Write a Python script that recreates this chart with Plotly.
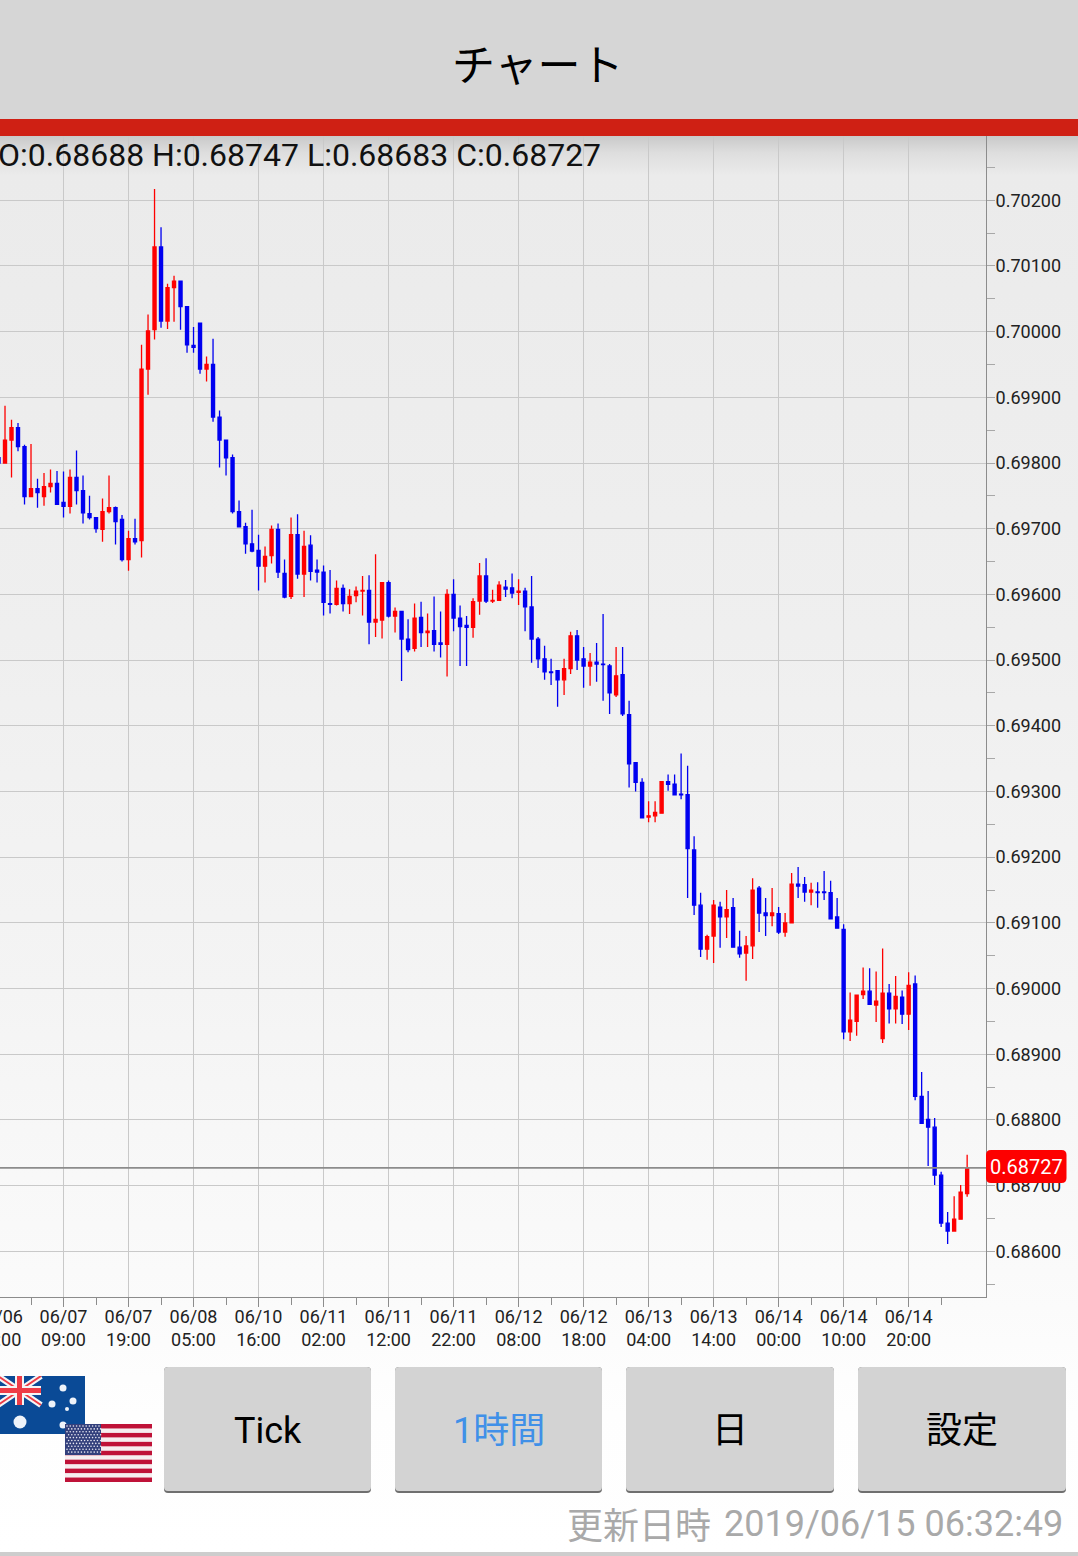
import base64
import plotly.graph_objects as go

W, H = 1078, 1556

# one hourly candle per row position, AUD/USD, oldest first
opens = [.69808,.69800,.69835,.69854,.69825,.69749,.69761,.69749,.69764,.69769,
 .69740,.69734,.69778,.69758,.69723,.69717,.69699,.69726,.69732,.69714,
 .69653,.69685,.69682,.69943,.70003,.70129,.70016,.70067,.70077,.70038,
 .69979,.70013,.69943,.69950,.69870,.69835,.69808,.69726,.69703,.69677,
 .69667,.69643,.69659,.69699,.69632,.69597,.69691,.69631,.69675,.69637,
 .69634,.69586,.69585,.69609,.69586,.69598,.69605,.69606,.69558,.69561,
 .69618,.69567,.69574,.69532,.69518,.69565,.69542,.69545,.69526,.69524,
 .69600,.69564,.69553,.69550,.69590,.69628,.69590,.69591,.69611,.69610,
 .69603,.69605,.69581,.69532,.69502,.69482,.69484,.69470,.69487,.69537,
 .69502,.69491,.69497,.69494,.69491,.69447,.69478,.69417,.69344,.69314,
 .69261,.69263,.69267,.69315,.69311,.69296,.69295,.69211,.69127,.69060,
 .69080,.69124,.69109,.69123,.69063,.69054,.69065,.69153,.69115,.69111,
 .69114,.69086,.69100,.69159,.69158,.69147,.69147,.69147,.69146,.69109,
 .69090,.68934,.68950,.68991,.68996,.68975,.68924,.68993,.68969,.68987,
 .68961,.69007,.68836,.68801,.68789,.68716,.68643,.68631,.68649,.68688]
highs = [.69808,.69887,.69866,.69861,.69828,.69829,.69776,.69785,.69790,.69788,
 .69787,.69790,.69819,.69781,.69750,.69718,.69746,.69781,.69734,.69721,
 .69697,.69715,.69980,.70026,.70217,.70159,.70073,.70085,.70077,.70038,
 .70007,.70013,.69962,.69989,.69880,.69835,.69813,.69743,.69709,.69729,
 .69691,.69673,.69705,.69708,.69653,.69717,.69722,.69697,.69690,.69653,
 .69644,.69637,.69621,.69615,.69608,.69612,.69628,.69629,.69661,.69618,
 .69621,.69580,.69574,.69562,.69586,.69589,.69571,.69597,.69574,.69608,
 .69623,.69583,.69567,.69594,.69648,.69655,.69607,.69620,.69622,.69632,
 .69623,.69610,.69628,.69535,.69522,.69502,.69484,.69502,.69543,.69546,
 .69520,.69511,.69526,.69570,.69494,.69520,.69520,.69438,.69345,.69320,
 .69285,.69285,.69315,.69326,.69326,.69358,.69339,.69232,.69146,.69082,
 .69135,.69132,.69150,.69138,.69088,.69080,.69168,.69156,.69138,.69153,
 .69124,.69115,.69176,.69185,.69170,.69161,.69162,.69179,.69164,.69138,
 .69098,.68994,.68991,.69032,.69031,.69026,.69061,.69007,.69019,.68997,
 .69025,.69020,.68873,.68844,.68803,.68721,.68660,.68684,.68701,.68747]
lows = [.69800,.69800,.69778,.69818,.69737,.69749,.69732,.69735,.69755,.69737,
 .69717,.69723,.69737,.69708,.69714,.69694,.69680,.69723,.69676,.69650,
 .69636,.69676,.69656,.69904,.69988,.70006,.70004,.70015,.70003,.69968,
 .69968,.69936,.69924,.69863,.69793,.69781,.69723,.69702,.69662,.69664,
 .69606,.69618,.69647,.69625,.69594,.69593,.69624,.69596,.69621,.69618,
 .69568,.69571,.69583,.69574,.69570,.69588,.69568,.69524,.69535,.69533,
 .69565,.69542,.69468,.69512,.69513,.69520,.69520,.69513,.69504,.69475,
 .69544,.69491,.69491,.69534,.69569,.69587,.69587,.69590,.69596,.69594,
 .69584,.69544,.69496,.69488,.69470,.69462,.69429,.69447,.69479,.69485,
 .69458,.69461,.69467,.69438,.69418,.69444,.69415,.69306,.69300,.69259,
 .69253,.69253,.69267,.69301,.69294,.69288,.69138,.69112,.69048,.69044,
 .69039,.69062,.69077,.69063,.69047,.69012,.69045,.69086,.69080,.69095,
 .69083,.69079,.69100,.69138,.69132,.69127,.69123,.69135,.69106,.69091,
 .68923,.68920,.68928,.68984,.68975,.68949,.68917,.68947,.68947,.68946,
 .68937,.68830,.68794,.68730,.68701,.68637,.68611,.68630,.68649,.68683]
closes = [.69800,.69835,.69854,.69825,.69749,.69761,.69755,.69764,.69769,.69737,
 .69734,.69778,.69758,.69724,.69717,.69700,.69726,.69732,.69711,.69653,
 .69685,.69680,.69943,.70001,.70129,.70016,.70067,.70077,.70038,.69980,
 .69976,.69943,.69950,.69870,.69835,.69808,.69726,.69703,.69677,.69666,
 .69643,.69658,.69699,.69634,.69596,.69691,.69631,.69673,.69635,.69634,
 .69588,.69585,.69609,.69586,.69597,.69605,.69606,.69558,.69562,.69618,
 .69567,.69574,.69532,.69516,.69564,.69542,.69544,.69524,.69524,.69600,
 .69564,.69551,.69550,.69589,.69628,.69590,.69591,.69614,.69608,.69602,
 .69605,.69581,.69532,.69502,.69482,.69481,.69470,.69487,.69537,.69500,
 .69491,.69497,.69494,.69493,.69450,.69476,.69418,.69342,.69314,.69260,
 .69263,.69268,.69315,.69311,.69295,.69295,.69213,.69127,.69060,.69079,
 .69127,.69109,.69120,.69063,.69053,.69065,.69150,.69115,.69111,.69115,
 .69086,.69100,.69159,.69156,.69147,.69150,.69146,.69146,.69106,.69092,
 .68934,.68952,.68990,.68996,.68976,.68981,.68993,.68969,.68988,.68961,
 .69005,.68836,.68795,.68789,.68716,.68643,.68631,.68649,.68690,.68727]
first_index = -10
positions = list(range(first_index, first_index + len(opens)))

tick_positions = [0, 10, 20, 30, 40, 50, 60, 70, 80, 90, 100, 110, 120, 130]
tick_dates = ["06/07","06/07","06/08","06/10","06/11","06/11","06/11","06/12","06/12","06/13","06/13","06/14","06/14","06/14"]
tick_times = ["09:00","19:00","05:00","16:00","02:00","12:00","22:00","08:00","18:00","04:00","14:00","00:00","10:00","20:00"]
clipped_tick = ("06/06", "23:00")

last_price = 0.68727
ohlc_text = "O:0.68688 H:0.68747 L:0.68683 C:0.68727"
title_text = "チャート"
updated_label = "更新日時"
updated_value = "2019/06/15 06:32:49"
buttons = ["Tick", "1時間", "日", "設定"]
button_colors = ["#000000", "#4090e8", "#000000", "#000000"]
button_left = [164, 395, 626, 858]
button_right = [371, 602, 834, 1066]

UP, DOWN = "#fe0000", "#0000f0"
JP = "Noto Sans CJK JP"


def px(v):
    return v / W


def py(v):
    return 1 - v / H


def rounded(x0, y0, x1, y1, r):
    X0, X1, Y0, Y1 = px(x0), px(x1), py(y0), py(y1)
    rx, ry = r / W, r / H
    return (f"M{X0+rx},{Y0} L{X1-rx},{Y0} Q{X1},{Y0} {X1},{Y0-ry} L{X1},{Y1+ry} Q{X1},{Y1} {X1-rx},{Y1} "
            f"L{X0+rx},{Y1} Q{X0},{Y1} {X0},{Y1+ry} L{X0},{Y0-ry} Q{X0},{Y0} {X0+rx},{Y0} Z")


def svg_uri(svg):
    return "data:image/svg+xml;base64," + base64.b64encode(svg.encode()).decode()


background_svg = f'''<svg xmlns="http://www.w3.org/2000/svg" width="{W}" height="{H}" preserveAspectRatio="none">
<defs><linearGradient id="g" x1="0" y1="0" x2="0" y2="1">
<stop offset="0" stop-color="#c9c9c9"/><stop offset="0.012" stop-color="#dedede"/><stop offset="0.028" stop-color="#ebebeb"/>
<stop offset="0.35" stop-color="#efefef"/><stop offset="0.6" stop-color="#f4f4f4"/><stop offset="0.8" stop-color="#fafafa"/><stop offset="0.9" stop-color="#fefefe"/><stop offset="1" stop-color="#ffffff"/>
</linearGradient></defs><rect width="{W}" height="{H}" fill="url(#g)"/></svg>'''

au_stars = [(65, 12, 3.5), (54, 28, 3.5), (75, 25, 3.5), (69, 33, 2), (65, 49, 3.5), (22, 46, 6.5)]
au_svg = f'''<svg xmlns="http://www.w3.org/2000/svg" width="87" height="58" viewBox="0 0 87 58">
<rect width="87" height="58" fill="#0a4a96"/>
<path d="M0,0 L43,29 M43,0 L0,29" stroke="#f5f5f5" stroke-width="6"/>
<path d="M0,0 L43,29 M43,0 L0,29" stroke="#ee3b46" stroke-width="2"/>
<path d="M21.5,0 V29 M0,14.5 H43" stroke="#f5f5f5" stroke-width="9"/>
<path d="M21.5,0 V29 M0,14.5 H43" stroke="#ee3b46" stroke-width="5"/>
{"".join(f'<circle cx="{x}" cy="{y}" r="{r}" fill="#eef3fa"/>' for x, y, r in au_stars)}
</svg>'''

us_stripes = "".join(f'<rect y="{k*58/13:.2f}" width="87" height="{58/13:.2f}" fill="#bf1238"/>' for k in range(0, 13, 2))
us_dots = "".join(f'<circle cx="{2+3.2*c + (1.6 if r % 2 else 0):.1f}" cy="{2+2.9*r:.1f}" r="0.8" fill="#e8e8f2"/>'
                  for r in range(10) for c in range(11))
us_svg = f'''<svg xmlns="http://www.w3.org/2000/svg" width="87" height="58" viewBox="0 0 87 58">
<rect width="87" height="58" fill="#f6eef0"/>{us_stripes}
<rect width="36" height="31" fill="#33407c"/>{us_dots}</svg>'''

fig = go.Figure(go.Candlestick(
    x=positions, open=opens, high=highs, low=lows, close=closes,
    increasing=dict(line=dict(color=UP, width=1.3), fillcolor=UP),
    decreasing=dict(line=dict(color=DOWN, width=1.3), fillcolor=DOWN),
    whiskerwidth=0, hoverinfo="skip", showlegend=False,
))

shapes = [
    dict(type="rect", xref="paper", yref="paper", x0=0, x1=1, y0=py(0), y1=py(119), fillcolor="#d6d6d6", line_width=0, layer="above"),
    dict(type="rect", xref="paper", yref="paper", x0=0, x1=1, y0=py(119), y1=py(136), fillcolor="#cf2014", line_width=0, layer="above"),
    dict(type="rect", xref="paper", yref="paper", x0=0, x1=1, y0=py(1552), y1=0, fillcolor="#cdcdcd", line_width=0, layer="above"),
    dict(type="line", xref="paper", yref="y", x0=0, x1=px(986), y0=last_price, y1=last_price,
         line=dict(color="#8c8c8c", width=1.6), layer="above"),
    dict(type="path", xref="paper", yref="paper", path=rounded(986, 1150, 1066.5, 1183, 5), fillcolor="#fd0000", line_width=0, layer="above"),
]
for left, right in zip(button_left, button_right):
    shapes.append(dict(type="path", xref="paper", yref="paper", path=rounded(left, 1367, right, 1493, 4),
                       fillcolor="#6f6f6f", line_width=0, layer="above"))
    shapes.append(dict(type="path", xref="paper", yref="paper", path=rounded(left, 1367, right, 1491, 4),
                       fillcolor="#d3d3d3", line_width=0, layer="above"))

annotations = [
    dict(x=px(538), y=py(62), text=title_text, font=dict(family=JP, size=43, color="#000000")),
    dict(x=px(-2), y=py(155), xanchor="left", text=ohlc_text, font=dict(family="Roboto", size=32, color="#111111")),
    dict(x=px(1026.5), y=py(1167), text=f"{last_price:.5f}", font=dict(family="Roboto", size=20, color="#ffffff")),
    dict(x=px(711), y=py(1523), xanchor="right", text=updated_label, font=dict(family=JP, size=36, color="#a9a9a9")),
    dict(x=px(1063), y=py(1524), xanchor="right", text=updated_value, font=dict(family="Roboto", size=36, color="#a9a9a9")),
    dict(x=px(-1.5), y=py(1328), text=f"{clipped_tick[0]}<br>{clipped_tick[1]}",
         font=dict(family="Roboto", size=18, color="#222222")),
]
for label, color, left, right in zip(buttons, button_colors, button_left, button_right):
    annotations.append(dict(x=px((left + right) / 2), y=py(1431), text=label,
                            font=dict(family=f"Roboto, {JP}", size=36, color=color)))
for a in annotations:
    a.update(xref="paper", yref="paper", showarrow=False, borderpad=0, borderwidth=0, yanchor="middle")
    a.setdefault("xanchor", "center")

fig.update_layout(
    width=W, height=H,
    margin=dict(l=0, r=0, t=0, b=0),
    paper_bgcolor="#ffffff", plot_bgcolor="rgba(0,0,0,0)",
    showlegend=False, boxgap=0.32, boxmode="overlay",
    shapes=shapes, annotations=annotations,
    images=[
        dict(source=svg_uri(background_svg), xref="paper", yref="paper", x=0, y=py(136), sizex=1, sizey=(H - 136) / H,
             xanchor="left", yanchor="top", sizing="stretch", layer="below"),
        dict(source=svg_uri(au_svg), xref="paper", yref="paper", x=px(-2), y=py(1376), sizex=87 / W, sizey=58 / H,
             xanchor="left", yanchor="top", sizing="stretch", layer="above"),
        dict(source=svg_uri(us_svg), xref="paper", yref="paper", x=px(65), y=py(1424), sizex=87 / W, sizey=58 / H,
             xanchor="left", yanchor="top", sizing="stretch", layer="above"),
    ],
    xaxis=dict(
        domain=[0, px(986)], range=[-9.77, 141.9], rangeslider_visible=False,
        tickmode="array", tickvals=tick_positions,
        ticktext=[f"{d}<br>{t}" for d, t in zip(tick_dates, tick_times)],
        ticks="outside", ticklen=9, tickwidth=1, tickcolor="#8c8c8c", ticklabelstandoff=-6,
        showgrid=True, gridcolor="#c9c9c9", gridwidth=1, zeroline=False,
        showline=True, linecolor="#8c8c8c", linewidth=1,
        tickangle=0, tickfont=dict(family="Roboto", size=18, color="#222222"),
        minor=dict(tick0=-5, dtick=10, ticks="outside", ticklen=7, tickcolor="#8c8c8c", tickwidth=1, showgrid=False),
    ),
    yaxis=dict(
        domain=[py(1297), py(136)], range=[0.685305, 0.702978], side="right",
        tick0=0.686, dtick=0.001, tickformat=".5f",
        ticks="outside", ticklen=8, tickwidth=1, tickcolor="#a8a8a8", ticklabelstandoff=-3,
        showgrid=True, gridcolor="#c9c9c9", gridwidth=1, zeroline=False,
        showline=True, linecolor="#8c8c8c", linewidth=1,
        tickfont=dict(family="Roboto", size=18, color="#222222"),
        minor=dict(tick0=0.6855, dtick=0.001, ticks="outside", ticklen=8, tickcolor="#a8a8a8", tickwidth=1, showgrid=False),
    ),
)

fig.write_html("out.html", config=dict(displayModeBar=False),
               post_script="document.body.style.margin='0';document.documentElement.style.overflow='hidden';")
